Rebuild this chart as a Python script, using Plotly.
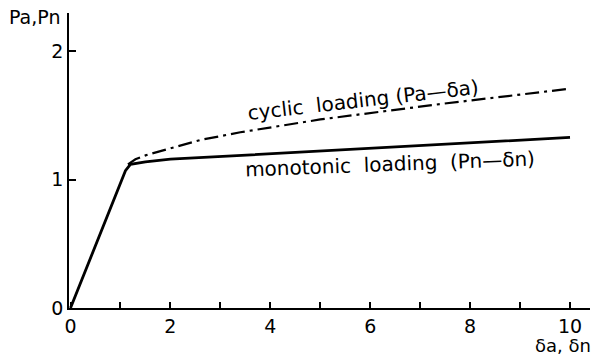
import plotly.graph_objects as go

# monotonic loading curve (Pn - delta_n)
x_mono = [0, 1.1, 1.2, 1.5, 2.0, 3.4, 5.0, 7.4, 10.0]
y_mono = [0, 1.07, 1.12, 1.14, 1.16, 1.19, 1.225, 1.28, 1.33]

# cyclic loading curve (Pa - delta_a)
x_cyc = [1.15, 1.3, 1.5, 2.0, 2.6, 3.4, 5.0, 7.4, 10.0]
y_cyc = [1.12, 1.16, 1.19, 1.245, 1.31, 1.37, 1.47, 1.59, 1.71]

x_tickvals = [0, 1, 2, 3, 4, 5, 6, 7, 8, 9, 10]
x_ticktext = ["0", "", "2", "", "4", "", "6", "", "8", "", "10"]
y_tickvals = [0, 1, 2]
y_ticktext = ["0", "1", "2"]

FONT = "DejaVu Sans"

fig = go.Figure()
fig.add_trace(go.Scatter(x=x_mono, y=y_mono, mode="lines",
                         line=dict(color="black", width=2.8), showlegend=False))
fig.add_trace(go.Scatter(x=x_cyc, y=y_cyc, mode="lines",
                         line=dict(color="black", width=2.2, dash="14px,5px,3px,5px"),
                         showlegend=False))

fig.add_annotation(x=5.86, y=1.62, xref="x", yref="y", text="cyclic\u00a0 loading (Pa\u2014\u03b4a)",
                   textangle=-6.5, showarrow=False, font=dict(family=FONT, size=20, color="black"))
fig.add_annotation(x=6.4, y=1.125, xref="x", yref="y",
                   text="monotonic\u00a0 loading\u00a0 (Pn\u2014\u03b4n)",
                   textangle=-2.2, showarrow=False, font=dict(family=FONT, size=20, color="black"))

fig.add_annotation(x=62, y=17, xref="paper", yref="paper", text="Pa,Pn", showarrow=False,
                   font=dict(family=FONT, size=19, color="black"))
fig.add_annotation(x=533, y=345, xref="paper", yref="paper", text="\u03b4a, \u03b4n", showarrow=False,
                   font=dict(family=FONT, size=18, color="black"))

fig.update_layout(
    width=595, height=357,
    margin=dict(l=69, r=5, t=13, b=49),
    paper_bgcolor="white", plot_bgcolor="white",
    font=dict(family=FONT, size=19, color="black"),
)
fig.update_xaxes(range=[-0.03, 10.4], showgrid=False, zeroline=False,
                 showline=True, linecolor="black", linewidth=1.5,
                 tickmode="array", tickvals=x_tickvals, ticktext=x_ticktext,
                 ticks="inside", ticklen=6, tickwidth=1.5, tickcolor="black")
fig.update_yaxes(range=[0, 2.3], showgrid=False, zeroline=False,
                 showline=True, linecolor="black", linewidth=1.5,
                 tickmode="array", tickvals=y_tickvals, ticktext=y_ticktext,
                 ticks="inside", ticklen=7, tickwidth=1.5, tickcolor="black")

# convert pixel positions of the paper annotations to paper fractions
pw, ph = 595 - 69 - 5, 357 - 13 - 49
for ann in fig.layout.annotations:
    if ann.xref == "paper":
        px, py = ann.x, ann.y
        ann.x = (px - 69) / pw
        ann.y = (357 - 49 - py) / ph
        ann.yanchor = "middle"
fig.layout.annotations[2].xanchor = "right"
fig.layout.annotations[3].xanchor = "left"

fig.write_html("out.html")
